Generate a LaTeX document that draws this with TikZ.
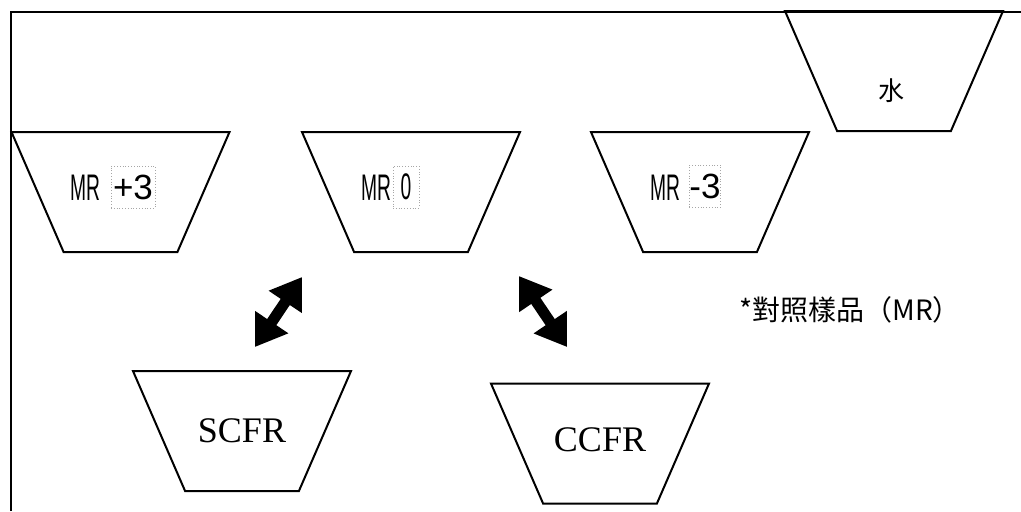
\documentclass[tikz,border=0pt]{standalone}
\usepackage{fontspec}
\setmainfont{Liberation Serif}
\newfontfamily\narrowfont[FakeStretch=0.52]{Liberation Sans}
\newfontfamily\digitfont{Liberation Sans}
\newfontfamily\cjkfont{Noto Sans CJK TC}
\usetikzlibrary{shapes.geometric, arrows.meta}
\tikzset{
cup/.style={draw, line width=1pt, trapezium, shape border rotate=180,
  trapezium angle=65.4, trapezium stretches=true,
  minimum width=109pt, minimum height=60pt, inner sep=2pt},
mrtxt/.style={inner sep=0pt, font=\narrowfont\fontsize{18.5}{20}\selectfont},
numbox/.style={draw=gray!70, densely dotted, line width=0.4pt, minimum height=21pt,
  inner sep=0pt, font=\digitfont\fontsize{17.5}{19}\selectfont},
bigtxt/.style={inner sep=0pt, font=\fontsize{18}{20}\selectfont},
cjktxt/.style={inner sep=0pt, font=\cjkfont\fontsize{#1}{#1}\selectfont},
dblarrow/.style={line width=5.5pt,
  {Triangle[width=19pt,length=15pt]}-{Triangle[width=19pt,length=15pt]}}
}
\begin{document}
\begin{tikzpicture}[x=0.5pt, y=-0.5pt]
  \useasboundingbox (0,0) rectangle (1021,511);
  % frame
  \draw[line width=1.2pt] (11,511) -- (11,12) -- (1021,12);
  % reference samples
  \node[cup] (mrplus) at (120.5,192) {};
  \node[cup] (mrzero) at (411,192) {};
  \node[cup] (mrminus) at (700,192) {};
  \node[cup] (water) at (894,71) {};
  \node[mrtxt] (mrplusl) at (85,188) {MR};
  \node[numbox, minimum width=22pt] (mrplusn) at (133,187) {+3};
  \node[mrtxt] (mrzerol) at (376,188) {MR};
  \node[numbox, minimum width=13pt, font=\narrowfont\fontsize{18.5}{20}\selectfont] (mrzeron) at (406,187) {0};
  \node[mrtxt] (mrminusl) at (665,188) {MR};
  \node[numbox, minimum width=15pt] (mrminusn) at (705,186) {-3};
  \node[cjktxt=13] (watertxt) at (891,91) {水};
  % test samples
  \node[cup] (scfr) at (242,431) {};
  \node[cup] (ccfr) at (600,443.5) {};
  \node[bigtxt] (scfrtxt) at (242,431) {SCFR};
  \node[bigtxt] (ccfrtxt) at (600,440) {CCFR};
  \node[cjktxt=14] (note) at (850,310) {*對照樣品（MR）};
  % comparison arrows
  \coordinate (sa) at (255,347);
  \coordinate (sb) at (302,277);
  \coordinate (ca) at (519,276);
  \coordinate (cb) at (567,347);
  \draw[dblarrow] (sa) -- (sb);
  \draw[dblarrow] (ca) -- (cb);
\end{tikzpicture}
\end{document}
